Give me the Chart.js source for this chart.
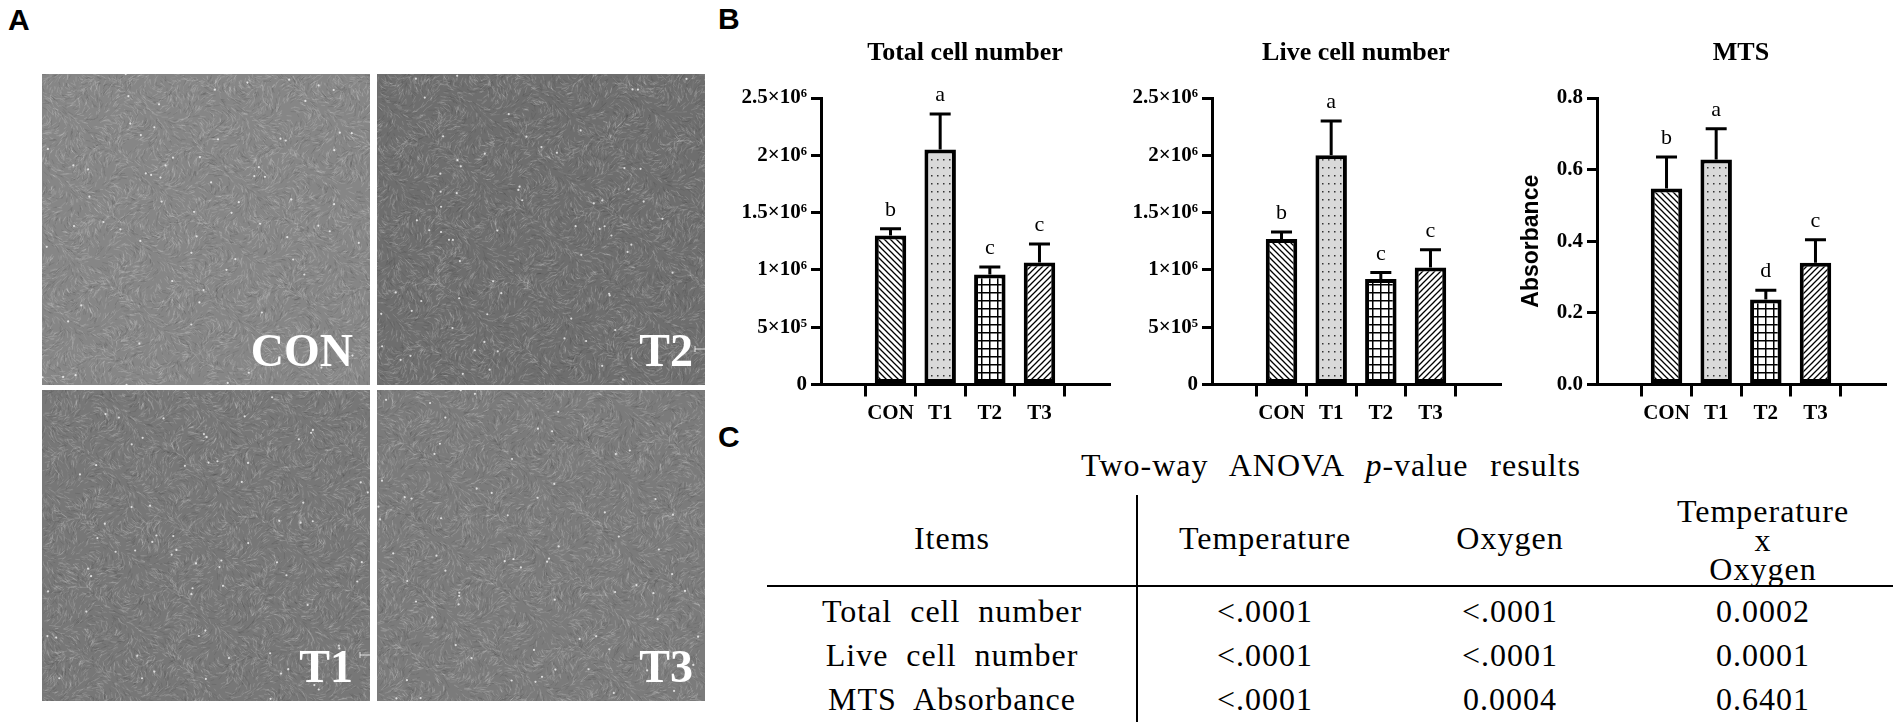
<!DOCTYPE html>
<html>
<head>
<meta charset="utf-8">
<script src="https://cdn.jsdelivr.net/npm/chart.js@4.4.1/dist/chart.umd.min.js"></script>
<style>
  body { margin: 0; background: #fff; }
  #fig { position: relative; width: 1902px; height: 728px; overflow: hidden; background: #fff;
         font-family: 'Liberation Serif', 'Times New Roman', serif; color: #000; }
  .panel { position: absolute; font-family: 'Liberation Sans', Arial, sans-serif; font-weight: bold;
           font-size: 30px; line-height: 30px; }
  .photo { position: absolute; display: block; }
  .plabel { position: absolute; width: 300px; text-align: right; color: #fff; font-weight: bold;
            font-size: 46px; line-height: 46px; white-space: nowrap; }
  canvas.chart { position: absolute; top: 20px; }
  .cell { position: absolute; width: 420px; text-align: center; font-size: 32px; line-height: 32px;
          letter-spacing: 1px; word-spacing: 9px; white-space: pre; }
  .rule { position: absolute; background: #000; }
</style>
</head>
<body>
<div id="fig">
  <div class="panel" style="left:8px;top:5px;">A</div>
  <div class="panel" style="left:718px;top:4px;">B</div>
  <div class="panel" style="left:718px;top:422px;">C</div>

  <canvas class="photo" id="photoCON" width="328" height="311" style="left:42px;top:74px;"></canvas>
  <canvas class="photo" id="photoT2" width="328" height="311" style="left:377px;top:74px;"></canvas>
  <canvas class="photo" id="photoT1" width="328" height="311" style="left:42px;top:390px;"></canvas>
  <canvas class="photo" id="photoT3" width="328" height="311" style="left:377px;top:390px;"></canvas>
  <div class="plabel" style="left:53px;top:328px;">CON</div>
  <div class="plabel" style="left:393px;top:328px;">T2</div>
  <div class="plabel" style="left:53px;top:644px;">T1</div>
  <div class="plabel" style="left:393px;top:644px;">T3</div>

  <canvas class="chart" id="totalChart" width="420" height="420" style="left:701px;"></canvas>
  <canvas class="chart" id="liveChart" width="420" height="420" style="left:1092px;"></canvas>
  <canvas class="chart" id="mtsChart" width="420" height="420" style="left:1477px;"></canvas>

  <div id="table"></div>
</div>

<script>
// bar chart data
const categories = ['CON', 'T1', 'T2', 'T3'];

const totalMeans = [1.30e6, 2.05e6, 0.96e6, 1.065e6];
const totalErrors = [0.06e6, 0.31e6, 0.065e6, 0.16e6];
const totalLetters = ['b', 'a', 'c', 'c'];

const liveMeans = [1.27e6, 2.00e6, 0.92e6, 1.02e6];
const liveErrors = [0.06e6, 0.30e6, 0.057e6, 0.155e6];
const liveLetters = ['b', 'a', 'c', 'c'];

const mtsMeans = [0.547, 0.628, 0.237, 0.340];
const mtsErrors = [0.088, 0.086, 0.026, 0.064];
const mtsLetters = ['b', 'a', 'd', 'c'];

const cellTicks = [0, 5e5, 1e6, 1.5e6, 2e6, 2.5e6];
const cellTickLabels = ['0', '5×10⁵', '1×10⁶', '1.5×10⁶', '2×10⁶', '2.5×10⁶'];
const mtsTicks = [0, 0.2, 0.4, 0.6, 0.8];
const mtsTickLabels = ['0.0', '0.2', '0.4', '0.6', '0.8'];

// ANOVA table
const tableTitle = 'Two-way ANOVA <i>p</i>-value results';
const tableColumns = ['Items', 'Temperature', 'Oxygen', 'Temperature\nx\nOxygen'];
const tableRows = ['Total cell number', 'Live cell number', 'MTS Absorbance'];
const tableValues = [
    ['<.0001', '<.0001', '0.0002'],
    ['<.0001', '<.0001', '0.0001'],
    ['<.0001', '0.0004', '0.6401']
];

const SERIF = "'Liberation Serif', 'Times New Roman', serif";

// fill patterns for the four groups
function makePattern(kind) {
    const c = document.createElement('canvas');
    const ctx = c.getContext('2d');
    if (kind === 'back' || kind === 'fwd') {
        c.width = 6; c.height = 6;
        ctx.fillStyle = '#fff';
        ctx.fillRect(0, 0, 6, 6);
        ctx.strokeStyle = '#000';
        ctx.lineWidth = 1.3;
        ctx.beginPath();
        if (kind === 'back') {
            ctx.moveTo(-1, -1); ctx.lineTo(7, 7);
            ctx.moveTo(5, -1); ctx.lineTo(7, 1);
            ctx.moveTo(-1, 5); ctx.lineTo(1, 7);
        } else {
            ctx.moveTo(-1, 7); ctx.lineTo(7, -1);
            ctx.moveTo(-1, 1); ctx.lineTo(1, -1);
            ctx.moveTo(5, 7); ctx.lineTo(7, 5);
        }
        ctx.stroke();
    } else if (kind === 'grid') {
        c.width = 8; c.height = 8;
        ctx.fillStyle = '#fff';
        ctx.fillRect(0, 0, 8, 8);
        ctx.fillStyle = '#000';
        ctx.fillRect(0, 0, 8, 1.5);
        ctx.fillRect(0, 0, 1.5, 8);
    } else {
        c.width = 6; c.height = 8;
        ctx.fillStyle = '#d9d9d9';
        ctx.fillRect(0, 0, 6, 8);
        ctx.fillStyle = '#333';
        ctx.fillRect(2, 3, 1.5, 1.5);
    }
    return ctx.createPattern(c, 'repeat');
}

const barFills = [makePattern('back'), makePattern('dots'), makePattern('grid'), makePattern('fwd')];

function errorBars(means, errors, letters) {
    return {
        id: 'errorBars',
        afterDatasetsDraw(chart) {
            const ctx = chart.ctx;
            const y = chart.scales.y;
            const meta = chart.getDatasetMeta(0);
            ctx.save();
            ctx.strokeStyle = '#000';
            ctx.lineWidth = 3;
            ctx.fillStyle = '#000';
            ctx.font = '22px ' + SERIF;
            ctx.textAlign = 'center';
            ctx.textBaseline = 'alphabetic';
            meta.data.forEach((bar, i) => {
                const base = y.getPixelForValue(means[i]);
                const top = y.getPixelForValue(means[i] + errors[i]);
                ctx.beginPath();
                ctx.moveTo(bar.x, base);
                ctx.lineTo(bar.x, top);
                ctx.moveTo(bar.x - 10.5, top);
                ctx.lineTo(bar.x + 10.5, top);
                ctx.stroke();
                ctx.fillText(letters[i], bar.x, top - 13);
            });
            ctx.restore();
        }
    };
}

function buildChart(id, title, means, errors, letters, yMax, tickVals, tickLabels, yTitle) {
    const tickFont = { family: SERIF, size: 21, weight: 'bold' };
    const axisGrid = { display: true, drawOnChartArea: false, drawTicks: true, lineWidth: 3, color: '#000' };
    const axisBorder = { display: true, color: '#000', width: 3 };

    return new Chart(document.getElementById(id), {
        type: 'bar',
        data: {
            datasets: [{
                data: means.map((v, i) => ({ x: i, y: v })),
                backgroundColor: barFills,
                borderColor: '#000',
                borderWidth: 4,
                borderSkipped: false,
                barPercentage: 0.634,
                categoryPercentage: 1
            }]
        },
        options: {
            responsive: false,
            animation: false,
            layout: { padding: { top: 0, right: 12, bottom: 0, left: 0 } },
            plugins: {
                legend: { display: false },
                tooltip: { enabled: false },
                title: {
                    display: true,
                    fullSize: false,
                    text: title,
                    color: '#000',
                    font: { family: SERIF, size: 26, weight: 'bold', lineHeight: 1.2 },
                    padding: { top: 17.4, bottom: 29.4 }
                }
            },
            scales: {
                x: {
                    type: 'linear',
                    min: -0.675,
                    max: 3.675,
                    afterBuildTicks: s => { s.ticks = categories.map((c, i) => ({ value: i })); },
                    afterFit: s => { s.height = 55.5; },
                    ticks: {
                        callback: v => categories[v],
                        color: '#000',
                        font: tickFont,
                        padding: 4,
                        autoSkip: false,
                        maxRotation: 0
                    },
                    grid: Object.assign({ tickLength: 12 }, axisGrid),
                    border: axisBorder
                },
                y: {
                    min: 0,
                    max: yMax,
                    afterBuildTicks: s => { s.ticks = tickVals.map(v => ({ value: v })); },
                    afterFit: s => { s.width = 120; },
                    ticks: {
                        callback: (v, i) => tickLabels[i],
                        color: '#000',
                        font: tickFont,
                        padding: 4
                    },
                    grid: Object.assign({ tickLength: 10 }, axisGrid),
                    border: axisBorder,
                    title: {
                        display: !!yTitle,
                        text: yTitle || '',
                        color: '#000',
                        font: { family: "'Liberation Sans', Arial, sans-serif", size: 23, weight: 'bold', lineHeight: 1.2 },
                        padding: { top: 41, bottom: 0 }
                    }
                }
            }
        },
        plugins: [errorBars(means, errors, letters)]
    });
}

buildChart('totalChart', 'Total cell number', totalMeans, totalErrors, totalLetters, 2.5e6, cellTicks, cellTickLabels);
buildChart('liveChart', 'Live cell number', liveMeans, liveErrors, liveLetters, 2.5e6, cellTicks, cellTickLabels);
buildChart('mtsChart', 'MTS', mtsMeans, mtsErrors, mtsLetters, 0.8, mtsTicks, mtsTickLabels, 'Absorbance');

// microscope photo stand-ins: gray field with a fine fibrous texture
function hash(n) {
    const s = Math.sin(n * 127.1 + 311.7) * 43758.5453;
    return s - Math.floor(s);
}

function paintPhoto(id, base, seed, scaleMark) {
    const canvas = document.getElementById(id);
    const ctx = canvas.getContext('2d');
    const w = canvas.width, h = canvas.height;
    ctx.fillStyle = base;
    ctx.fillRect(0, 0, w, h);
    ctx.lineWidth = 0.9;
    for (let k = 0; k < 11000; k++) {
        const px = hash(seed + k * 3.1) * w;
        const py = hash(seed + k * 7.7 + 1.3) * h;
        const ang = Math.sin(px / 14 + seed) * 1.3 + Math.cos(py / 11 + seed * 0.7) * 1.3 + hash(k + seed * 2) * 1.2;
        const len = 3 + hash(k * 1.7 + seed) * 4;
        const r = hash(k * 2.3 + seed);
        ctx.strokeStyle = r > 0.5 ? 'rgba(255,255,255,0.16)' : (r > 0.2 ? 'rgba(40,40,40,0.14)' : 'rgba(230,230,230,0.1)');
        ctx.beginPath();
        ctx.moveTo(px, py);
        ctx.lineTo(px + Math.cos(ang) * len, py + Math.sin(ang) * len);
        ctx.stroke();
    }
    ctx.fillStyle = 'rgba(255,255,255,0.75)';
    for (let k = 0; k < 70; k++) {
        ctx.beginPath();
        ctx.arc(hash(seed * 5 + k * 11.3) * w, hash(seed * 3 + k * 5.9) * h, 1.1, 0, Math.PI * 2);
        ctx.fill();
    }
    if (scaleMark) {
        ctx.strokeStyle = 'rgba(255,255,255,0.8)';
        ctx.lineWidth = 1;
        ctx.beginPath();
        ctx.moveTo(scaleMark[0], scaleMark[1]);
        ctx.lineTo(scaleMark[0] + 10, scaleMark[1]);
        ctx.moveTo(scaleMark[0], scaleMark[1] - 3);
        ctx.lineTo(scaleMark[0], scaleMark[1] + 3);
        ctx.stroke();
    }
}

paintPhoto('photoCON', '#868686', 1);
paintPhoto('photoT2', '#6e6e6e', 2, [318, 275]);
paintPhoto('photoT1', '#777777', 3, [318, 265]);
paintPhoto('photoT3', '#7b7b7b', 4);

// ANOVA table as positioned text
const colX = [952, 1265, 1510, 1763];
const rowY = [611, 655, 699];
const headerY = 538;

function addCell(html, cx, cy, extra) {
    const d = document.createElement('div');
    d.className = 'cell';
    d.innerHTML = html;
    d.style.left = (cx - 210) + 'px';
    d.style.top = (cy - 16) + 'px';
    if (extra) Object.assign(d.style, extra);
    document.getElementById('table').appendChild(d);
    return d;
}

function esc(s) {
    return s.replace(/&/g, '&amp;').replace(/</g, '&lt;');
}

addCell(tableTitle, 1331, 465, { width: '700px', left: (1331 - 350) + 'px', wordSpacing: '13px' });
tableColumns.forEach((c, i) => {
    if (c.indexOf('\n') >= 0) {
        addCell(esc(c), colX[i], headerY, { lineHeight: '29px', top: (540 - 14.5 - 29) + 'px' });
    } else {
        addCell(esc(c), colX[i], headerY);
    }
});
tableRows.forEach((r, j) => {
    addCell(esc(r), colX[0], rowY[j]);
    tableValues[j].forEach((v, i) => addCell(esc(v), colX[i + 1], rowY[j]));
});

function addRule(left, top, width, height) {
    const d = document.createElement('div');
    d.className = 'rule';
    Object.assign(d.style, { left: left + 'px', top: top + 'px', width: width + 'px', height: height + 'px' });
    document.getElementById('table').appendChild(d);
}
addRule(767, 585, 1126, 2);
addRule(1136, 495, 1.5, 227);
</script>
</body>
</html>
